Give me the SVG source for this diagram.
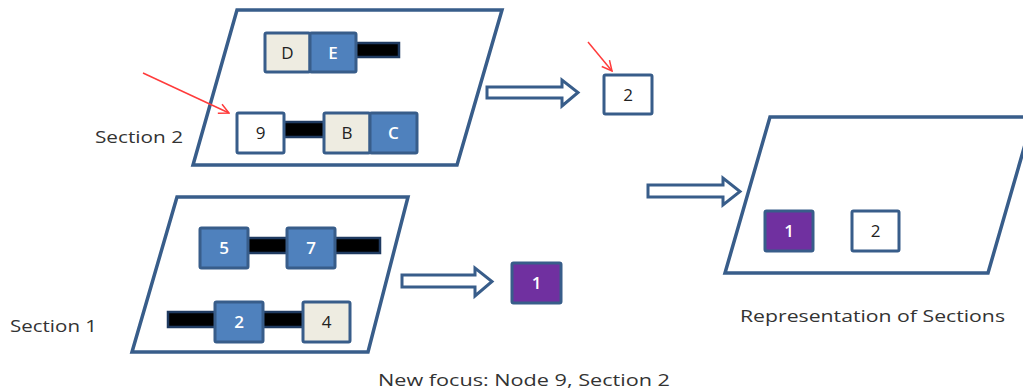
<svg xmlns="http://www.w3.org/2000/svg" width="1023" height="390" viewBox="0 0 1023 390">
<defs>
<style>
.sec{fill:#fff;stroke:#385D8A;stroke-width:3.5;stroke-linejoin:miter}
.blue{fill:#4F81BD;stroke:#385D8A;stroke-width:3}
.beige{fill:#EEECE1;stroke:#385D8A;stroke-width:3}
.white{fill:#fff;stroke:#385D8A;stroke-width:3}
.purple{fill:#7030A0;stroke:#385D8A;stroke-width:3}
.bar{fill:#000;stroke:#1F3A60;stroke-width:2.5}
.arr{fill:#fff;stroke:#385D8A;stroke-width:3;stroke-linejoin:miter}
.red{stroke:#FF3B3B;stroke-width:1.5;fill:none}
.t{font-family:"Open Sans","DejaVu Sans",sans-serif;font-size:17px;text-anchor:middle}
.tw{fill:#fff;font-weight:600}
.tk{fill:#222}
.lbl{font-family:"Open Sans","DejaVu Sans",sans-serif;font-size:17px;fill:#333}
</style>
<marker id="redhead" viewBox="0 0 12 12" refX="11" refY="6" markerWidth="12" markerHeight="12" markerUnits="userSpaceOnUse" orient="auto">
<path d="M1,1 L11,6 L1,11" fill="none" stroke="#FF3B3B" stroke-width="1.5"/>
</marker>
</defs>
<rect width="1023" height="390" fill="#fff"/>

<g id="section2">
<polygon class="sec" points="237,10 502,10 457,165 193,165"/>
<rect class="bar" x="354" y="43" width="45" height="14"/>
<g id="nodeD"><rect class="beige" x="265" y="33" width="45" height="39" rx="1.5"/><text class="t tk" x="287.5" y="59">D</text></g>
<g id="nodeE"><rect class="blue" x="310" y="33" width="46" height="39" rx="1.5"/><text class="t tw" x="333" y="59">E</text></g>
<rect class="bar" x="282" y="122" width="44" height="15"/>
<g id="node9"><rect class="white" x="237" y="113" width="47" height="40" rx="1.5"/><text class="t tk" x="260.5" y="139">9</text></g>
<g id="nodeB"><rect class="beige" x="324" y="113" width="46" height="40" rx="1.5"/><text class="t tk" x="347" y="139">B</text></g>
<g id="nodeC"><rect class="blue" x="370" y="113" width="47" height="40" rx="1.5"/><text class="t tw" x="393.5" y="139">C</text></g>
</g>

<g id="section1">
<polygon class="sec" points="177,197 408,197 368,352 132,352"/>
<rect class="bar" x="246" y="238" width="43" height="15"/>
<rect class="bar" x="333" y="238" width="47" height="15"/>
<g id="node5"><rect class="blue" x="200" y="228" width="48" height="40" rx="1.5"/><text class="t tw" x="224" y="254">5</text></g>
<g id="node7"><rect class="blue" x="287" y="228" width="48" height="40" rx="1.5"/><text class="t tw" x="311" y="254">7</text></g>
<rect class="bar" x="168" y="312" width="49" height="15"/>
<rect class="bar" x="261" y="312" width="44" height="15"/>
<g id="node2s1"><rect class="blue" x="215" y="302" width="48" height="40" rx="1.5"/><text class="t tw" x="239" y="328">2</text></g>
<g id="node4"><rect class="beige" x="303" y="302" width="47" height="40" rx="1.5"/><text class="t tk" x="326.5" y="328">4</text></g>
</g>

<g id="representation">
<polygon class="sec" points="770,117 1033,117 988,273 725,273"/>
<g id="rep1"><rect class="purple" x="765" y="211" width="48" height="40" rx="1.5"/><text class="t tw" x="789" y="237">1</text></g>
<g id="rep2"><rect class="white" x="852" y="211" width="47" height="40" rx="1.5"/><text class="t tk" x="875.5" y="237">2</text></g>
</g>

<g id="out2"><rect class="white" x="604" y="75" width="48" height="39" rx="1.5"/><text class="t tk" x="628" y="101">2</text></g>
<g id="out1"><rect class="purple" x="512" y="263" width="49" height="40" rx="1.5"/><text class="t tw" x="536.5" y="289">1</text></g>

<g id="connectors">
<polygon class="arr" points="487,87 562,87 562,80 578,92.5 562,106 562,98 487,98"/>
<polygon class="arr" points="402,275 475,275 475,268 492,281.5 475,296 475,287 402,287"/>
<polygon class="arr" points="648,185 723,185 723,178 740,191.5 723,205 723,197 648,197"/>
<line class="red" x1="143" y1="73" x2="229" y2="113" marker-end="url(#redhead)"/>
<line class="red" x1="588" y1="42" x2="612" y2="71" marker-end="url(#redhead)"/>
</g>

<g id="labels">
<text class="lbl" x="95" y="143" textLength="88" lengthAdjust="spacingAndGlyphs">Section 2</text>
<text class="lbl" x="10" y="332" textLength="87" lengthAdjust="spacingAndGlyphs">Section 1</text>
<text class="lbl" x="740" y="322" textLength="265" lengthAdjust="spacingAndGlyphs">Representation of Sections</text>
<text class="lbl" x="378" y="386" textLength="292" lengthAdjust="spacingAndGlyphs">New focus: Node 9, Section 2</text>
</g>
</svg>
